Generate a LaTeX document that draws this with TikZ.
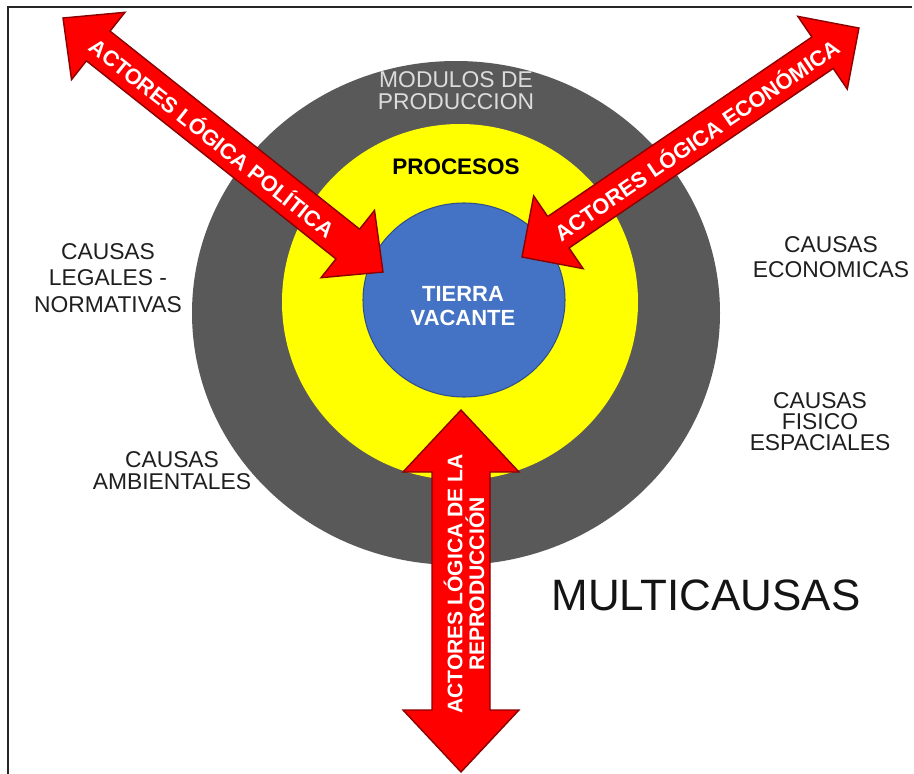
\documentclass[tikz,border=0pt]{standalone}
\usepackage{fontspec}
\setmainfont{Liberation Sans}
\usepackage{tikz}
\usepackage{xcolor}
\definecolor{anillo}{HTML}{595959}
\definecolor{amarillo}{HTML}{FFFF00}
\definecolor{nucleo}{HTML}{4472C4}
\definecolor{rojo}{HTML}{FF0000}
\definecolor{rojoborde}{HTML}{8B0000}
\definecolor{grisclaro}{HTML}{DCDCDC}

\tikzset{
  flecha/.style={fill=rojo, draw=rojoborde, line width=0.8pt, line join=miter},
  causa/.style={font=\fontsize{13}{15}\selectfont, text=black!88, align=center, inner sep=0pt},
  rotulo/.style={font=\fontsize{12.4}{12.5}\selectfont\bfseries, text=white, align=center, inner sep=0pt},
}

% doble flecha: origen, angulo, largo, medio cuerpo, media cabeza, largo cabeza
\newcommand{\dobleflecha}[6]{%
  \begin{scope}[shift={#1}, rotate=#2]
    \filldraw[flecha] (0,0) -- (#6,#5) -- (#6,#4) -- ({#3-#6},#4) -- ({#3-#6},#5) -- (#3,0)
      -- ({#3-#6},-#5) -- ({#3-#6},-#4) -- (#6,-#4) -- (#6,-#5) -- cycle;
  \end{scope}}

\begin{document}
\begin{tikzpicture}[x=0.02cm, y=-0.02cm]
  \useasboundingbox (0,0) rectangle (914,774);
  \fill[white] (0,0) rectangle (914,774);
  \draw[black!85, line width=1.3pt] (8,774) -- (8,7) -- (912,7);

  % anillos
  \fill[anillo] (456,313) ellipse [x radius=264, y radius=252];
  \fill[amarillo] (460,302) circle [radius=178];
  \filldraw[fill=nucleo, draw=nucleo!70!black, line width=0.6pt] (464,300) ellipse [x radius=101, y radius=97];

  % flechas de actores
  \dobleflecha{(63,18)}{-38.44}{408.6}{19}{43}{45}
  \dobleflecha{(522,257)}{34.2}{407.4}{19}{44}{44}
  \dobleflecha{(461,410)}{-90}{362}{29}{58}{62}

  \node[rotulo, rotate=-38.44] (politica) at (213,137) {ACTORES LÓGICA POLÍTICA};
  \node[rotulo, rotate=34.2] (economica) at (696,139) {ACTORES LÓGICA ECONÓMICA};
  \node[rotulo, rotate=90, font=\fontsize{12}{12.5}\selectfont\bfseries] (reproduccion) at (464,584)
    {ACTORES LÓGICA DE LA\\REPRODUCCIÓN};

  % textos
  \node[causa, font=\fontsize{13}{12.5}\selectfont, text=grisclaro] (modulos) at (456,91) {MODULOS DE\\PRODUCCION};
  \node[font=\fontsize{12.8}{14}\selectfont\bfseries, inner sep=0pt] (procesos) at (456,167) {PROCESOS};
  \node[rotulo, font=\fontsize{12.5}{13.6}\selectfont\bfseries] (tierra) at (463,306) {TIERRA\\VACANTE};
  \node[causa] (legales) at (108,278) {CAUSAS\\LEGALES -\\NORMATIVAS};
  \node[causa, font=\fontsize{13}{14}\selectfont] (economicas) at (831,257) {CAUSAS\\ECONOMICAS};
  \node[causa, font=\fontsize{13}{12}\selectfont] (fisico) at (820,422) {CAUSAS\\FISICO\\ESPACIALES};
  \node[causa, font=\fontsize{13}{12.5}\selectfont] (ambientales) at (172,471) {CAUSAS\\AMBIENTALES};
  \node[font=\fontsize{25}{30}\selectfont, text=black!92, inner sep=0pt] (multicausas) at (706,595) {MULTICAUSAS};
\end{tikzpicture}
\end{document}
